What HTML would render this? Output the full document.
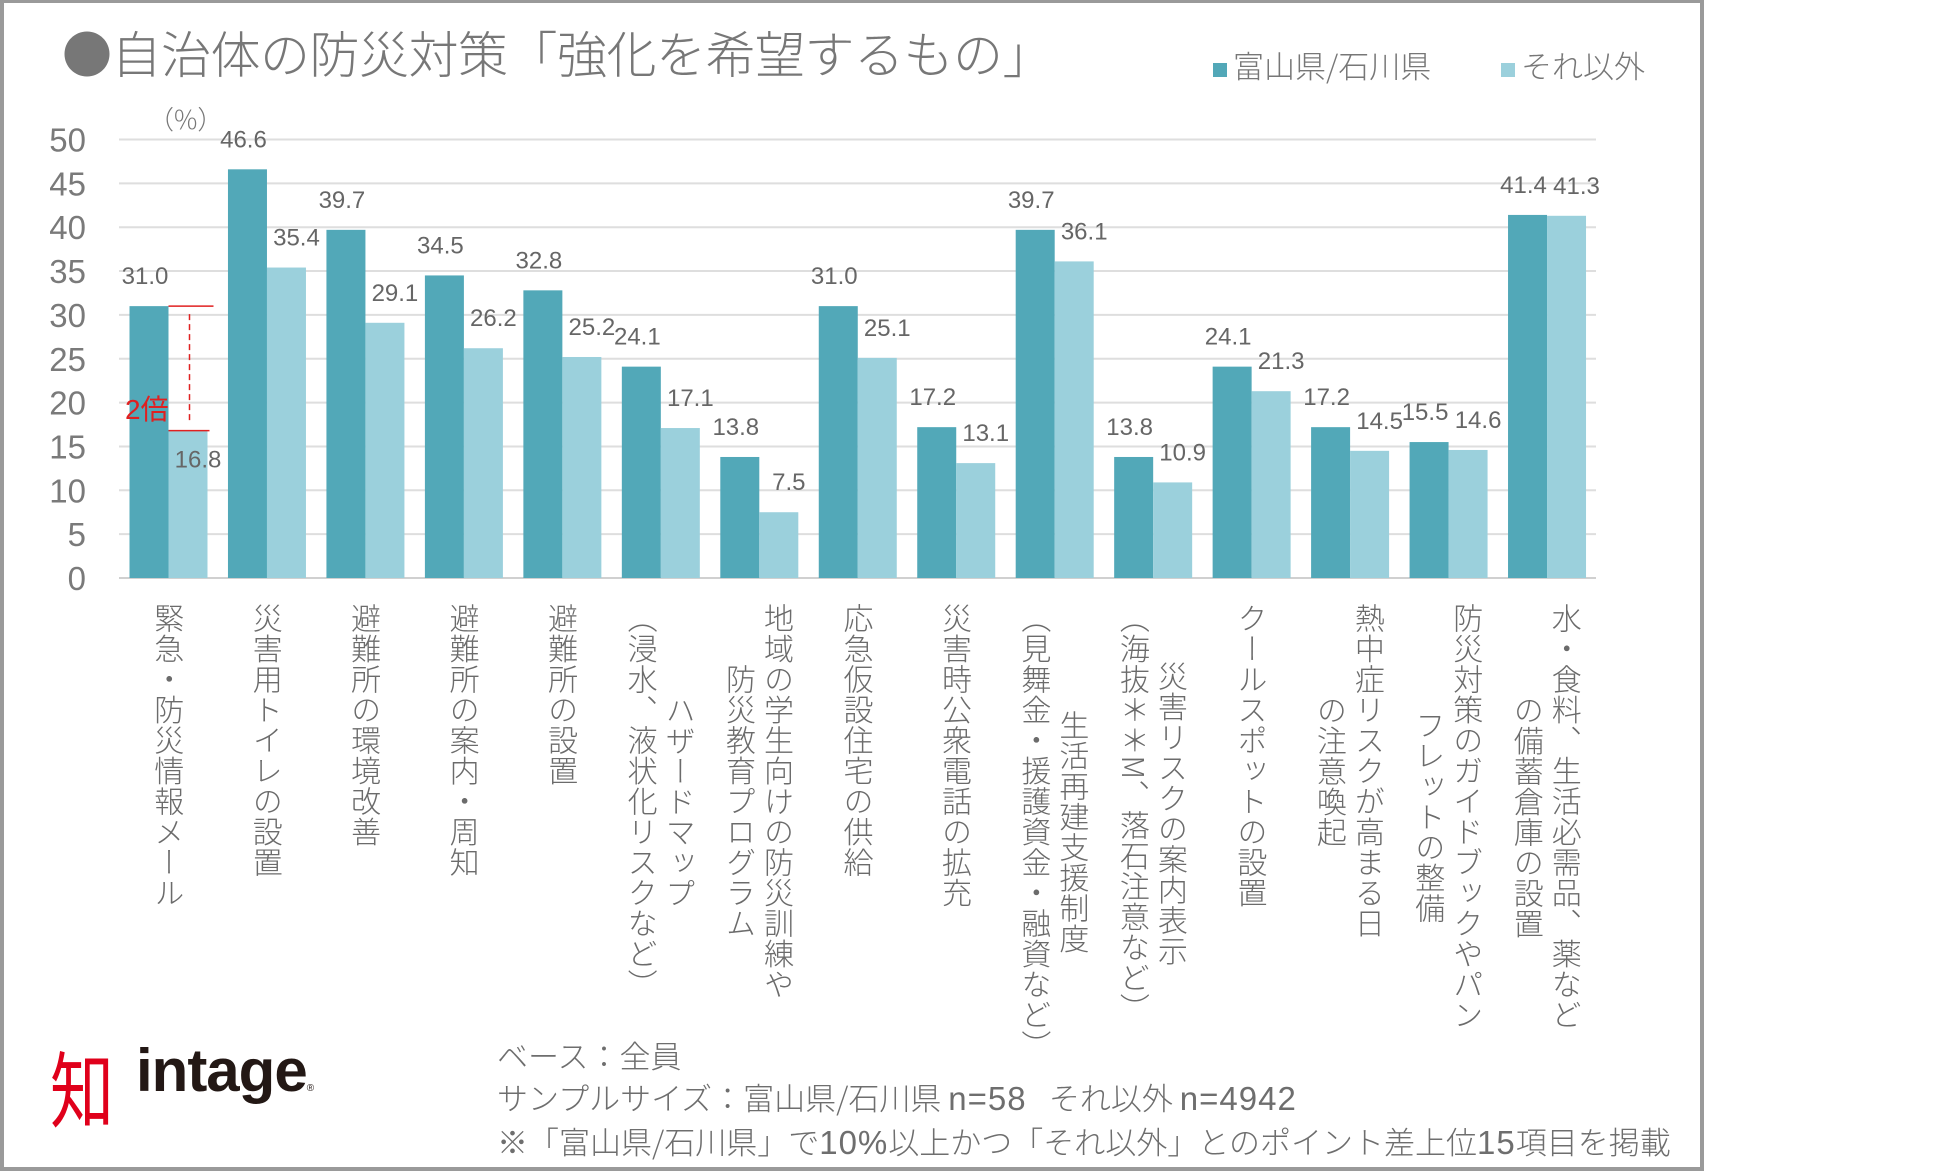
<!DOCTYPE html>
<html><head><meta charset="utf-8"><style>
body{margin:0;background:#fff;width:1950px;height:1174px;overflow:hidden;font-family:"Liberation Sans","Noto Sans CJK JP",sans-serif}
#frame{position:absolute;left:0;top:0;width:1696px;height:1164px;border:4px solid #9a9a9a;border-top-width:3px}
.abs{position:absolute;white-space:nowrap}
.cat{position:absolute;top:603px;writing-mode:vertical-rl;text-align:center;font-size:30px;line-height:38px;color:#6b6b6b;font-family:"Noto Sans CJK JP",sans-serif;font-weight:300;letter-spacing:0.5px}
.lat{font-family:"Liberation Sans",sans-serif;font-size:33px;letter-spacing:1px}
</style></head><body>
<div id="frame"></div>
<div class="abs" style="left:62px;top:16px;font-size:50px;color:#777;font-family:'Noto Sans CJK JP',sans-serif;font-weight:300;letter-spacing:-0.5px">●自治体の防災対策「強化を希望するもの」</div>
<div class="abs" style="left:1213px;top:42px;font-size:31px;color:#777;font-family:'Noto Sans CJK JP',sans-serif;font-weight:300"><span style="display:inline-block;width:14px;height:14px;background:#52a8b8;margin-right:6px;vertical-align:middle"></span>富山県/石川県</div>
<div class="abs" style="left:1501px;top:42px;font-size:31px;color:#777;font-family:'Noto Sans CJK JP',sans-serif;font-weight:300"><span style="display:inline-block;width:14px;height:14px;background:#9bd0dc;margin-right:6px;vertical-align:middle"></span>それ以外</div>
<div class="abs" style="left:148px;top:100px;font-size:26px;color:#777;font-family:'Noto Sans CJK JP',sans-serif;font-weight:300">（%）</div>
<svg id="chart" width="1950" height="1174" style="position:absolute;left:0;top:0"></svg>
<div id="cats"></div>
<div class="abs" style="left:50px;top:1034px;font-size:64px;line-height:80px;color:#e0001b;font-weight:normal;font-family:'Noto Sans CJK JP',sans-serif;transform:scaleY(1.3);transform-origin:top left">知</div>
<div class="abs" style="left:136px;top:1036px;font-size:60px;color:#231815;font-weight:bold;letter-spacing:-1px">intage<span style="font-size:10px;font-weight:normal">®</span></div>
<div class="abs" style="left:497px;top:1034px;font-size:31px;line-height:42px;color:#6e6e6e;font-family:'Noto Sans CJK JP',sans-serif;font-weight:300">ベース：全員<br>サンプルサイズ：富山県/石川県 <span class="lat">n=58</span>&ensp; それ以外 <span class="lat">n=4942</span><br>※「富山県/石川県」で<span class="lat">10%</span>以上かつ「それ以外」とのポイント差上位<span class="lat">15</span>項目を掲載</div>
<script>
const categories=["緊急・防災情報メール","災害用トイレの設置","避難所の環境改善","避難所の案内・周知","避難所の設置","ハザードマップ\n（浸水、液状化リスクなど）","地域の学生向けの防災訓練や\n防災教育プログラム","応急仮設住宅の供給","災害時公衆電話の拡充","生活再建支援制度\n（見舞金・援護資金・融資など）","災害リスクの案内表示\n（海抜＊＊M、落石注意など）","クールスポットの設置","熱中症リスクが高まる日\nの注意喚起","防災対策のガイドブックやパン\nフレットの整備","水・食料、生活必需品、薬など\nの備蓄倉庫の設置"];
const toyamaIshikawa=[31.0,46.6,39.7,34.5,32.8,24.1,13.8,31.0,17.2,39.7,13.8,24.1,17.2,15.5,41.4];
const others=[16.8,35.4,29.1,26.2,25.2,17.1,7.5,25.1,13.1,36.1,10.9,21.3,14.5,14.6,41.3];
const yTicks=[0,5,10,15,20,25,30,35,40,45,50];
const NS="http://www.w3.org/2000/svg";
const svg=document.getElementById('chart');
const X0=119,X1=1596,Y0=578,Y50=139.5;
const yS=v=>Y0-(Y0-Y50)*v/50;
const band=(X1-X0)/categories.length;
const bx=(i,s)=>X0+i*band+10.5+s*39;
function mk(t,a){const e=document.createElementNS(NS,t);for(const k in a)e.setAttribute(k,a[k]);svg.appendChild(e);return e;}
yTicks.forEach(t=>{
 const l=mk('line',{x1:X0,x2:X1,y1:yS(t),y2:yS(t),stroke:t===0?'#d0d0d0':'#dedede','stroke-width':2});
 
 
 const tx=mk('text',{x:86,y:yS(t)+12,'text-anchor':'end','font-size':33,fill:'#7a7a7a','font-family':'Liberation Sans, sans-serif'});
 tx.textContent=t;
 
 
});
[[toyamaIshikawa,'#52a8b8','toyama'],[others,'#9bd0dc','others']].forEach(([arr,col,nm],s)=>{
 arr.forEach((v,i)=>{
  const r=mk('rect',{x:bx(i,s),y:yS(v),width:39,height:Y0-yS(v),fill:col});
  
  
  let ly=yS(v)-22;
  if(s===1&&i===0) ly=yS(v)+37;
  const t=mk('text',{x:bx(i,s)+19.5+(s===1?10:-4),y:ly,'text-anchor':'middle','font-size':24,fill:'#666','font-family':'Liberation Sans, sans-serif'});
  t.textContent=v.toFixed(1);
  
  
 });
});
const ya=yS(toyamaIshikawa[0]),yb=yS(others[0]);
const a1=mk('line',{x1:bx(0,1),x2:bx(0,1)+45,y1:ya,y2:ya,stroke:'#e02020','stroke-width':1.5});


const a2=mk('line',{x1:bx(0,1),x2:bx(0,1)+41,y1:yb,y2:yb,stroke:'#e02020','stroke-width':1.5});


const a3=mk('line',{x1:bx(0,1)+21,x2:bx(0,1)+21,y1:ya+8,y2:yb-8,stroke:'#e02020','stroke-width':1.5,'stroke-dasharray':'6,4'});


const at=mk('text',{x:125,y:419,'font-size':28,fill:'#e02020','font-family':'Liberation Sans, Noto Sans CJK JP, sans-serif'});
at.textContent='2倍';


const cw=document.getElementById('cats');
categories.forEach((c,i)=>{
 const d=document.createElement('div');
 d.className='cat';
 
 
 d.innerHTML=c.split('\n').join('<br>');
 cw.appendChild(d);
 const w=d.offsetWidth;
 d.style.left=(X0+i*band+band/2-w/2+1)+'px';
});
</script>
</body></html>
